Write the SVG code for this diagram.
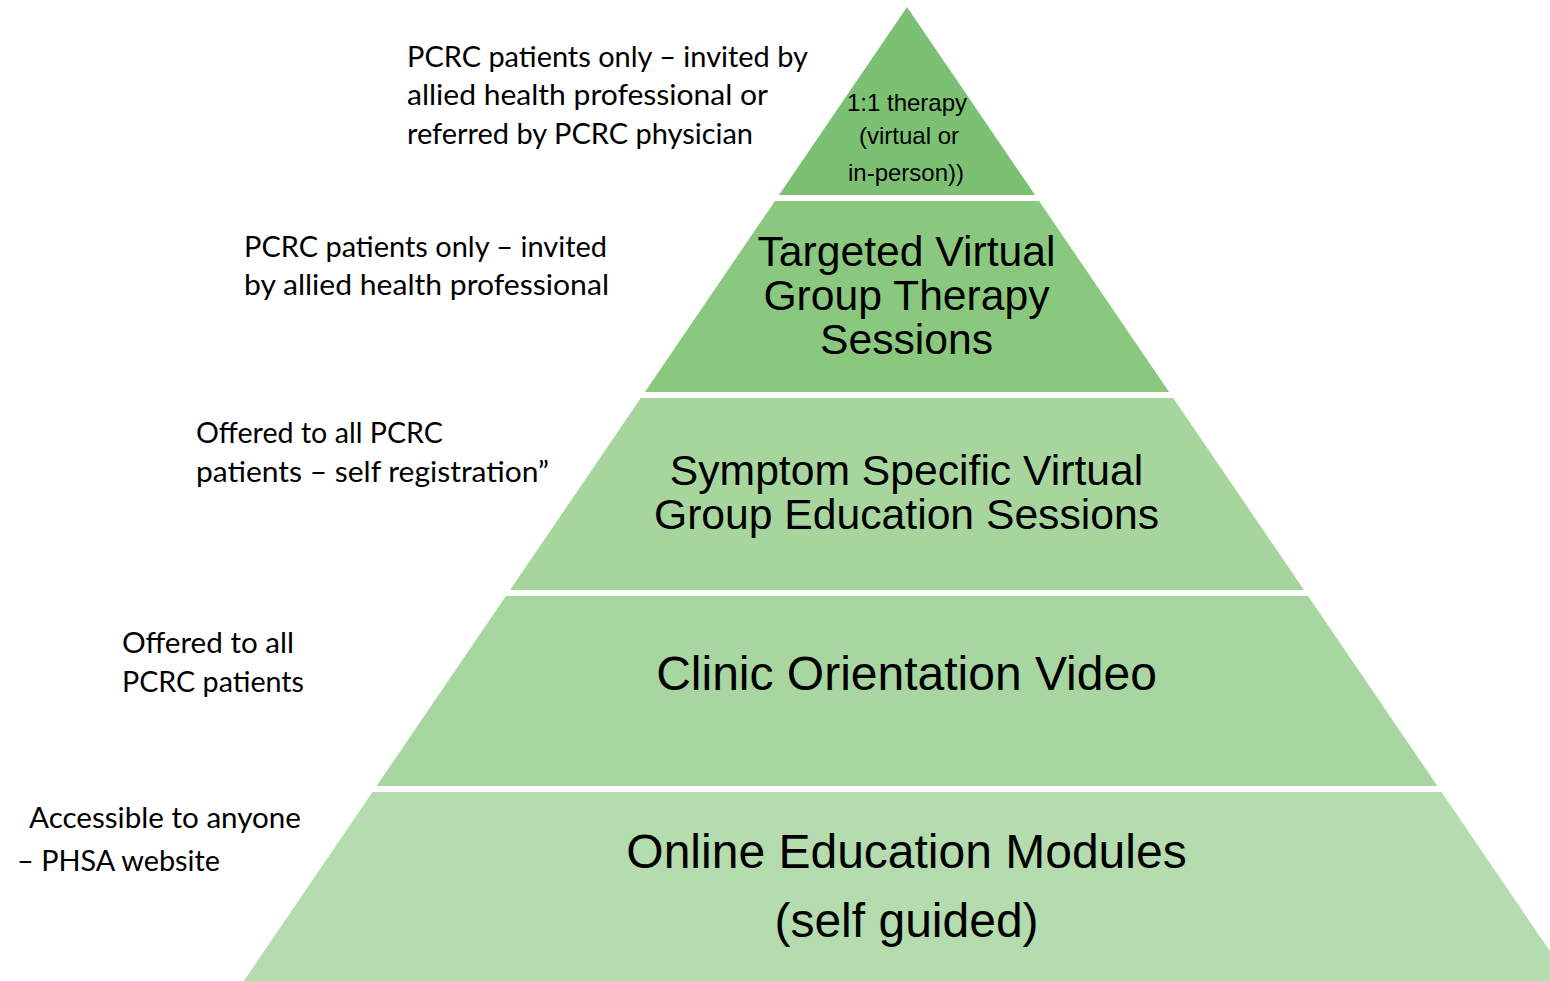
<svg xmlns="http://www.w3.org/2000/svg" width="1550" height="981" viewBox="0 0 1550 981">
  <style>
    .tier-text { font-family: "Liberation Sans", Arial, sans-serif; fill: #000; text-anchor: middle; }
    .t-small { font-size: 24px; }
    .t-mid { font-size: 42.67px; }
    .t-big { font-size: 48px; }
    .note { font-family: Lato, "Open Sans", sans-serif; font-size: 29.5px; fill: #000; }
  </style>

  <rect x="0" y="0" width="1550" height="981" fill="#ffffff"/>

  <!-- Pyramid tiers, top to bottom -->
  <g id="tier-1on1">
    <polygon points="907,7 1035,195 779,195" fill="#7cc173"/>
    <text class="tier-text t-small" x="907" y="111">1:1 therapy</text>
    <text class="tier-text t-small" x="909" y="144">(virtual or</text>
    <text class="tier-text t-small" x="906" y="181">in-person))</text>
  </g>

  <g id="tier-group-therapy">
    <polygon points="774.9,201 1039.1,201 1169.1,392 644.9,392" fill="#89c87e"/>
    <text class="tier-text t-mid" x="906.5" y="266">Targeted Virtual</text>
    <text class="tier-text t-mid" x="906.5" y="310">Group Therapy</text>
    <text class="tier-text t-mid" x="906.5" y="354">Sessions</text>
  </g>

  <g id="tier-education-sessions">
    <polygon points="640.8,398 1173.2,398 1304,590 510,590" fill="#a7d59e"/>
    <text class="tier-text t-mid" x="906.5" y="485">Symptom Specific Virtual</text>
    <text class="tier-text t-mid" x="906.5" y="529">Group Education Sessions</text>
  </g>

  <g id="tier-orientation-video">
    <polygon points="505.9,596 1308.1,596 1437.4,786 376.6,786" fill="#a8d6a0"/>
    <text class="tier-text t-big" x="906.5" y="690">Clinic Orientation Video</text>
  </g>

  <g id="tier-online-modules">
    <polygon points="372.5,792 1441.5,792 1570.2,981 243.8,981" fill="#b4dcae"/>
    <text class="tier-text t-big" x="906.5" y="868">Online Education Modules</text>
    <text class="tier-text t-big" x="906.5" y="937">(self guided)</text>
  </g>

  <!-- Access notes beside each tier -->
  <g id="note-1on1">
    <text class="note" x="407" y="67" textLength="401" lengthAdjust="spacingAndGlyphs">PCRC patients only – invited by</text>
    <text class="note" x="407" y="105" textLength="361" lengthAdjust="spacingAndGlyphs">allied health professional or</text>
    <text class="note" x="407" y="144" textLength="346" lengthAdjust="spacingAndGlyphs">referred by PCRC physician</text>
  </g>

  <g id="note-group-therapy">
    <text class="note" x="244" y="257" textLength="363" lengthAdjust="spacingAndGlyphs">PCRC patients only – invited</text>
    <text class="note" x="244" y="295" textLength="365" lengthAdjust="spacingAndGlyphs">by allied health professional</text>
  </g>

  <g id="note-education-sessions">
    <text class="note" x="196" y="443" textLength="247" lengthAdjust="spacingAndGlyphs">Offered to all PCRC</text>
    <text class="note" x="196" y="482" textLength="353" lengthAdjust="spacingAndGlyphs">patients – self registration”</text>
  </g>

  <g id="note-orientation-video">
    <text class="note" x="122" y="653" textLength="172" lengthAdjust="spacingAndGlyphs">Offered to all</text>
    <text class="note" x="122" y="692" textLength="182" lengthAdjust="spacingAndGlyphs">PCRC patients</text>
  </g>

  <g id="note-online-modules">
    <text class="note" x="29" y="828" textLength="272" lengthAdjust="spacingAndGlyphs">Accessible to anyone</text>
    <text class="note" x="17" y="871" textLength="203" lengthAdjust="spacingAndGlyphs">– PHSA website</text>
  </g>
</svg>
